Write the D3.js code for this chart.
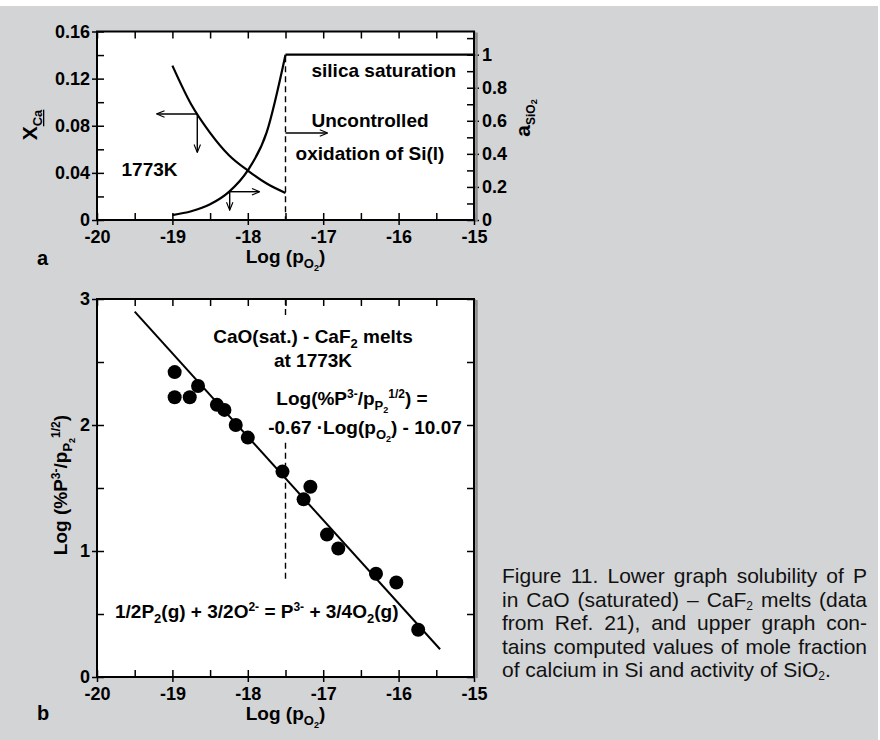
<!DOCTYPE html>
<html>
<head>
<meta charset="utf-8">
<script src="https://cdn.jsdelivr.net/npm/d3@7"></script>
<style>
  body { margin: 0; background: #fff; }
  svg { display: block; }
</style>
</head>
<body>
<svg id="fig" width="880" height="740"></svg>
<script>
// ---- panel a: computed X_Ca and a_SiO2 vs Log(pO2) ----
const logPO2a = [-19, -18.75, -18.5, -18.25, -18, -17.75, -17.5];
const xCa = [0.131, 0.098, 0.074, 0.055, 0.042, 0.031, 0.023];
const aSiO2 = [0.03, 0.053, 0.095, 0.17, 0.3, 0.53, 1.0];
const silicaSat = [[-17.5, 1], [-15, 1]];

// ---- panel b: measured P solubility ----
const logPO2b = [-18.97, -18.97, -18.77, -18.66, -18.41, -18.31, -18.16, -18.0, -17.54, -17.26, -17.17, -16.95, -16.8, -16.3, -16.03, -15.74];
const logP = [2.42, 2.22, 2.22, 2.31, 2.16, 2.12, 2.0, 1.9, 1.63, 1.41, 1.51, 1.13, 1.02, 0.82, 0.75, 0.375];
const fitLine = [[-19.5, 2.9], [-15.45, 0.22]];

// ---- ticks ----
const xTicks = [-20, -19, -18, -17, -16, -15];
const xMinor = [-19.5, -18.5, -17.5, -16.5, -15.5];
const xCaTicks = [0, 0.04, 0.08, 0.12, 0.16];
const xCaMinor = [0.02, 0.06, 0.1, 0.14];
const aTicks = [0, 0.2, 0.4, 0.6, 0.8, 1];
const aMinor = [0.1, 0.3, 0.5, 0.7, 0.9, 1.1];
const logPTicks = [0, 1, 2, 3];
const logPMinor = [0.5, 1.5, 2.5];

const captionLines = [
  ["Figure 11. Lower graph solubility of P"],
  ["in CaO (saturated) \u2013 CaF", ["2", 12, 3], [" melts (data", 21, 0]],
  ["from Ref. 21), and upper graph con-"],
  ["tains computed values of mole fraction"],
  ["of calcium in Si and activity of SiO", ["2", 12, 3], [".", 21, 0]],
];

const FONT = '"Liberation Sans", Arial, Helvetica, sans-serif';
const LEFT = 97, RIGHT = 474;
const TOP_A = { top: 31.5, bottom: 220 };
const TOP_B = { top: 299, bottom: 677 };

const svg = d3.select("#fig").attr("font-family", FONT);

svg.append("rect")
  .attr("x", 0).attr("y", 6)
  .attr("width", 878).attr("height", 734)
  .attr("fill", "#d3d4d6");

svg.append("defs").append("marker")
  .attr("id", "head")
  .attr("viewBox", "0 -5 10 10")
  .attr("refX", 9).attr("refY", 0)
  .attr("markerUnits", "userSpaceOnUse")
  .attr("markerWidth", 9).attr("markerHeight", 8)
  .attr("orient", "auto")
  .append("path")
  .attr("d", "M0,-4L10,0L0,4")
  .attr("fill", "none")
  .attr("stroke", "#000")
  .attr("stroke-width", 1.4);

// text with sub/superscripts: parts are strings or [text, size, shift]
function rich(g, x, y, parts, size, anchor) {
  const t = g.append("text")
    .attr("x", x).attr("y", y)
    .attr("font-size", size)
    .attr("font-weight", "bold")
    .attr("text-anchor", anchor || "start");
  let cur = 0;
  parts.forEach((p) => {
    const [str, sz, shift, deco] = typeof p === "string" ? [p, size, 0] : p;
    const s = t.append("tspan").attr("dy", shift - cur).attr("font-size", sz).text(str);
    if (deco) s.attr("text-decoration", deco);
    cur = shift;
  });
  return t;
}

const x = d3.scaleLinear().domain([-20, -15]).range([LEFT, RIGHT]);

function styleAxis(g, size) {
  g.select(".domain").remove();
  g.attr("font-family", FONT).attr("font-size", size || 18).attr("font-weight", "bold");
  g.selectAll(".tick line").attr("stroke-width", 1.5);
  g.selectAll(".tick text").attr("fill", "#000");
}

function xAxes(g, box) {
  const b = g.append("g")
    .attr("transform", `translate(0,${box.bottom})`)
    .call(d3.axisBottom(x).tickValues(xTicks).tickSize(-7).tickPadding(10).tickFormat((d) => String(d)));
  styleAxis(b);
  b.selectAll(".tick line").attr("y1", 5);
  g.append("g")
    .attr("transform", `translate(0,${box.bottom})`)
    .call(d3.axisBottom(x).tickValues(xMinor).tickSize(-7).tickFormat(""))
    .call(styleAxis);
  g.append("g")
    .attr("transform", `translate(0,${box.top})`)
    .call(d3.axisTop(x).tickValues(xTicks.concat(xMinor)).tickSize(-7).tickFormat(""))
    .call(styleAxis);
}

function frame(g, box) {
  g.append("line")
    .attr("x1", RIGHT + 2.5).attr("x2", RIGHT + 2.5)
    .attr("y1", box.top + 1).attr("y2", box.bottom + 1)
    .attr("stroke", "#8c8c8c").attr("stroke-width", 2.5);
  g.append("rect")
    .attr("x", LEFT).attr("y", box.top)
    .attr("width", RIGHT - LEFT).attr("height", box.bottom - box.top)
    .attr("fill", "none").attr("stroke", "#000").attr("stroke-width", 2);
}

// ================= panel a =================
const ga = svg.append("g");
ga.append("rect")
  .attr("x", LEFT).attr("y", TOP_A.top)
  .attr("width", RIGHT - LEFT).attr("height", TOP_A.bottom - TOP_A.top)
  .attr("fill", "#fff");

const yX = d3.scaleLinear().domain([0, 0.16]).range([TOP_A.bottom, TOP_A.top]);
const yA = d3.scaleLinear().domain([0, 1.14]).range([TOP_A.bottom, TOP_A.top]);

xAxes(ga, TOP_A);

const la = ga.append("g")
  .attr("transform", `translate(${LEFT},0)`)
  .call(d3.axisLeft(yX).tickValues(xCaTicks).tickSize(-7).tickPadding(7)
    .tickFormat((d) => (d === 0 ? "0" : d3.format(".2f")(d))));
styleAxis(la);
la.selectAll(".tick line").attr("x1", -5);
ga.append("g")
  .attr("transform", `translate(${LEFT},0)`)
  .call(d3.axisLeft(yX).tickValues(xCaMinor).tickSize(-7).tickFormat(""))
  .call(styleAxis);

const ra = ga.append("g")
  .attr("transform", `translate(${RIGHT},0)`)
  .call(d3.axisRight(yA).tickValues(aTicks).tickSize(-7).tickPadding(8)
    .tickFormat((d) => String(d)));
styleAxis(ra);
ra.selectAll(".tick line").attr("x1", 5);
ga.append("g")
  .attr("transform", `translate(${RIGHT},0)`)
  .call(d3.axisRight(yA).tickValues(aMinor).tickSize(-7).tickFormat(""))
  .call(styleAxis);

// dashed limit at silica saturation
ga.append("line")
  .attr("x1", x(-17.5)).attr("x2", x(-17.5))
  .attr("y1", yA(0.99)).attr("y2", yA(0))
  .attr("stroke", "#000").attr("stroke-width", 1.4)
  .attr("stroke-dasharray", "6,4");

const lineX = d3.line().x((d) => x(d[0])).y((d) => yX(d[1])).curve(d3.curveMonotoneX);
const lineA = d3.line().x((d) => x(d[0])).y((d) => yA(d[1])).curve(d3.curveMonotoneX);

ga.append("path")
  .datum(d3.zip(logPO2a, xCa))
  .attr("d", lineX)
  .attr("fill", "none").attr("stroke", "#000").attr("stroke-width", 2.2);
ga.append("path")
  .datum(d3.zip(logPO2a, aSiO2))
  .attr("d", lineA)
  .attr("fill", "none").attr("stroke", "#000").attr("stroke-width", 2.2);
ga.append("path")
  .datum(silicaSat)
  .attr("d", d3.line().x((d) => x(d[0])).y((d) => yA(d[1])))
  .attr("fill", "none").attr("stroke", "#000").attr("stroke-width", 2.2);

// pointer arrows, in X_Ca units
const arrowsA = [
  [[-18.67, 0.09], [-19.2, 0.09]],
  [[-18.67, 0.09], [-18.67, 0.058]],
  [[-18.24, 0.024], [-17.85, 0.024]],
  [[-18.24, 0.024], [-18.24, 0.009]],
  [[-17.5, 0.0738], [-16.95, 0.0738]],
];
ga.selectAll(".arrow")
  .data(arrowsA)
  .join("line")
  .attr("class", "arrow")
  .attr("x1", (d) => x(d[0][0])).attr("y1", (d) => yX(d[0][1]))
  .attr("x2", (d) => x(d[1][0])).attr("y2", (d) => yX(d[1][1]))
  .attr("stroke", "#000").attr("stroke-width", 1.4)
  .attr("marker-end", "url(#head)");

rich(ga, 121.5, 176, ["1773K"], 19);
rich(ga, 311.5, 77, ["silica saturation"], 19);
rich(ga, 370, 126.5, ["Uncontrolled"], 19, "middle");
rich(ga, 370, 160, ["oxidation of Si(l)"], 19, "middle");

rich(ga, 285.5, 263, ["Log (p", ["O", 13, 5], ["2", 9, 8], [")", 19, 0]], 19, "middle");
rich(ga, 37, 265, ["a"], 20);
rich(ga.append("g").attr("transform", "translate(37,125) rotate(-90)"),
  0, 0, ["X", ["Ca", 13, 5, "underline"]], 21, "middle");
rich(ga.append("g").attr("transform", "translate(530,118) rotate(-90)"),
  0, 0, ["a", ["SiO", 12, 5], ["2", 9, 7]], 21, "middle");

frame(ga, TOP_A);

// ================= panel b =================
const gb = svg.append("g");
gb.append("rect")
  .attr("x", LEFT).attr("y", TOP_B.top)
  .attr("width", RIGHT - LEFT).attr("height", TOP_B.bottom - TOP_B.top)
  .attr("fill", "#fff");

const yB = d3.scaleLinear().domain([0, 3]).range([TOP_B.bottom, TOP_B.top]);

xAxes(gb, TOP_B);

const lb = gb.append("g")
  .attr("transform", `translate(${LEFT},0)`)
  .call(d3.axisLeft(yB).tickValues(logPTicks).tickSize(-7).tickPadding(7).tickFormat((d) => String(d)));
styleAxis(lb);
lb.selectAll(".tick line").attr("x1", -5);
gb.append("g")
  .attr("transform", `translate(${LEFT},0)`)
  .call(d3.axisLeft(yB).tickValues(logPMinor).tickSize(-7).tickFormat(""))
  .call(styleAxis);
gb.append("g")
  .attr("transform", `translate(${RIGHT},0)`)
  .call(d3.axisRight(yB).tickValues(logPTicks.concat(logPMinor)).tickSize(-7).tickFormat(""))
  .call(styleAxis);

const dashB = [[3, 2.86], [1.86, 0.77]];
gb.selectAll(".limit")
  .data(dashB)
  .join("line")
  .attr("class", "limit")
  .attr("x1", x(-17.5)).attr("x2", x(-17.5))
  .attr("y1", (d) => yB(d[0])).attr("y2", (d) => yB(d[1]))
  .attr("stroke", "#000").attr("stroke-width", 1.4)
  .attr("stroke-dasharray", "6,4");

gb.append("path")
  .datum(fitLine)
  .attr("d", d3.line().x((d) => x(d[0])).y((d) => yB(d[1])))
  .attr("fill", "none").attr("stroke", "#000").attr("stroke-width", 2);

gb.selectAll(".pt")
  .data(d3.zip(logPO2b, logP))
  .join("circle")
  .attr("class", "pt")
  .attr("cx", (d) => x(d[0]))
  .attr("cy", (d) => yB(d[1]))
  .attr("r", 7)
  .attr("fill", "#000");

rich(gb, 313, 343, ["CaO(sat.) - CaF", ["2", 13, 5], [" melts", 19, 0]], 19, "middle");
rich(gb, 313, 367, ["at 1773K"], 19, "middle");
rich(gb, 352, 405, ["Log(%P", ["3-", 12, -7], ["/p", 19, 0], ["P", 13, 5], ["2", 9, 8],
  ["1/2", 12, -7], [") =", 19, 0]], 19, "middle");
rich(gb, 365, 434, ["-0.67 \u00b7Log(p", ["O", 13, 5], ["2", 9, 8], [") - 10.07", 19, 0]], 19, "middle");
rich(gb, 115, 618, ["1/2P", ["2", 13, 5], ["(g) + 3/2O", 19, 0], ["2-", 12, -7],
  [" = P", 19, 0], ["3-", 12, -7], [" + 3/4O", 19, 0], ["2", 13, 5], ["(g)", 19, 0]], 19);

rich(gb, 285.5, 720, ["Log (p", ["O", 13, 5], ["2", 9, 8], [")", 19, 0]], 19, "middle");
rich(gb, 37, 720, ["b"], 20);
rich(gb.append("g").attr("transform", "translate(67,485) rotate(-90)"),
  0, 0, ["Log (%P", ["3-", 12, -7], ["/p", 19, 0], ["P", 13, 5], ["2", 9, 8],
    ["1/2", 12, -7], [")", 19, 0]], 19, "middle");

frame(gb, TOP_B);

// ================= caption =================
const capX = 502, capW = 365, capY0 = 583, capStep = 23.5;
captionLines.forEach((parts, i) => {
  const t = rich(svg, capX, capY0 + i * capStep, parts, 21)
    .attr("font-weight", "normal")
    .attr("fill", "#111");
  if (i < captionLines.length - 1) {
    const len = t.node().getComputedTextLength();
    const spaces = parts.map((p) => (typeof p === "string" ? p : p[0])).join("").split(" ").length - 1;
    if (spaces > 0) t.attr("word-spacing", (capW - len) / spaces);
  }
});
</script>
</body>
</html>
